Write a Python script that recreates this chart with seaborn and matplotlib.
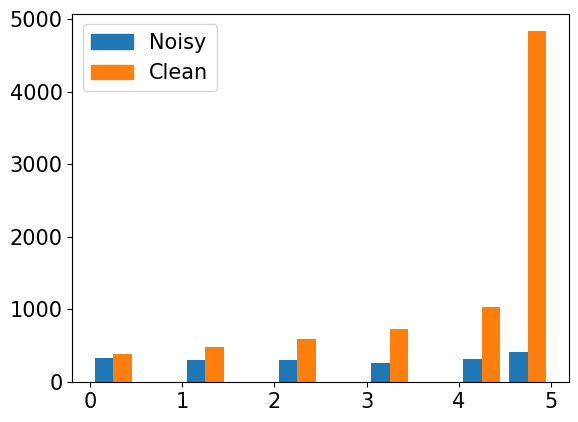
import matplotlib
matplotlib.use("Agg")
import matplotlib.pyplot as plt
from matplotlib.patches import Patch
import pandas as pd
import seaborn as sns

# rating values and counts
ratings = [0, 1, 2, 3, 4, 5]
noisy_counts = [325, 302, 302, 265, 316, 412]
clean_counts = [385, 481, 591, 728, 1034, 4835]
labels = ["Noisy", "Clean"]
colors = ["#1f77b4", "#ff7f0e"]

df = pd.DataFrame({
    "rating": ratings * 2,
    "count": noisy_counts + clean_counts,
    "source": [labels[0]] * len(ratings) + [labels[1]] * len(ratings),
})

fig, ax = plt.subplots(figsize=(5.78, 4.22), dpi=100)
fig.subplots_adjust(left=0.125, right=0.984, top=0.967, bottom=0.095)

# dodged histogram, same layout as plt.hist with two datasets
sns.histplot(data=df, x="rating", weights="count", hue="source",
             hue_order=labels, palette=colors, bins=10, binrange=(0, 5),
             multiple="dodge", shrink=0.8, alpha=1, linewidth=0,
             legend=False, ax=ax)

ax.set_xlabel("")
ax.set_ylabel("")
ax.set_yticks([0, 1000, 2000, 3000, 4000, 5000])
ax.tick_params(labelsize=15)

handles = [Patch(color=c, label=l) for c, l in zip(colors, labels)]
ax.legend(handles=handles, loc="upper left", fontsize=15)

plt.savefig("out.png")
plt.close()
